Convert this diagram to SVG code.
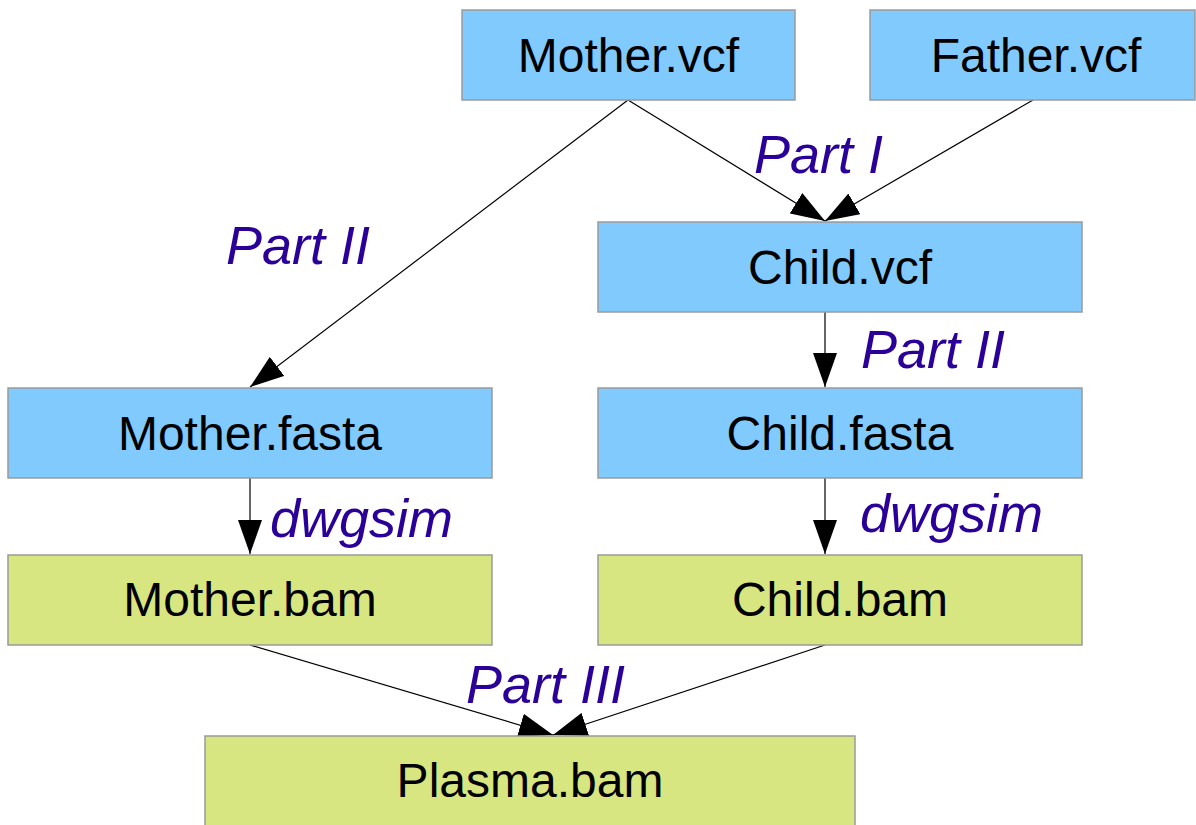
<svg xmlns="http://www.w3.org/2000/svg" width="1196" height="825" viewBox="0 0 1196 825">
<style>
.blue{fill:#80cafe;stroke:#9a9a9a;stroke-width:1.5}
.green{fill:#d7e680;stroke:#9a9a9a;stroke-width:1.5}
.nt{font-family:"Liberation Sans",Arial,sans-serif;font-size:48px;fill:#000;text-anchor:middle}
.lb{font-family:"Liberation Sans",Arial,sans-serif;font-size:54px;font-style:italic;fill:#2a0099}
.cn{stroke:#000;stroke-width:1.2;fill:none;marker-end:url(#ah)}
</style>
<defs>
<marker id="ah" markerUnits="userSpaceOnUse" markerWidth="34" markerHeight="24" refX="34" refY="12" orient="auto" viewBox="0 0 34 24">
<path d="M0,0 L34,12 L0,24 Z" fill="#000"/>
</marker>
</defs>
<rect width="1196" height="825" fill="#fff"/>
<g id="connectors">
<line class="cn" x1="628" y1="100" x2="825" y2="221"/>
<line class="cn" x1="1033" y1="100" x2="825" y2="221"/>
<line class="cn" x1="628" y1="100" x2="250" y2="387"/>
<line class="cn" x1="825" y1="312" x2="825" y2="387"/>
<line class="cn" x1="250" y1="478" x2="250" y2="554"/>
<line class="cn" x1="825" y1="478" x2="825" y2="554"/>
<line class="cn" x1="250" y1="645" x2="553" y2="735"/>
<line class="cn" x1="825" y1="645" x2="553" y2="735"/>
</g>
<g id="labels">
<text class="lb" x="754" y="173">Part I</text>
<text class="lb" x="226" y="264">Part II</text>
<text class="lb" x="861" y="368">Part II</text>
<text class="lb" x="270" y="537">dwgsim</text>
<text class="lb" x="860" y="532">dwgsim</text>
<text class="lb" x="466" y="703">Part III</text>
</g>
<g id="mother_vcf"><rect class="blue" x="462" y="10" width="333" height="90"/><text class="nt" x="628.5" y="72">Mother.vcf</text></g>
<g id="father_vcf"><rect class="blue" x="870" y="10" width="325" height="90"/><text class="nt" x="1036" y="72">Father.vcf</text></g>
<g id="child_vcf"><rect class="blue" x="598" y="222" width="484" height="90"/><text class="nt" x="840" y="284">Child.vcf</text></g>
<g id="mother_fasta"><rect class="blue" x="8" y="388" width="484" height="90"/><text class="nt" x="250" y="450">Mother.fasta</text></g>
<g id="child_fasta"><rect class="blue" x="598" y="388" width="484" height="90"/><text class="nt" x="840" y="450">Child.fasta</text></g>
<g id="mother_bam"><rect class="green" x="8" y="555" width="484" height="90"/><text class="nt" x="250" y="616">Mother.bam</text></g>
<g id="child_bam"><rect class="green" x="598" y="555" width="484" height="90"/><text class="nt" x="840" y="616">Child.bam</text></g>
<g id="plasma_bam"><rect class="green" x="205" y="736" width="650" height="100"/><text class="nt" x="530" y="797">Plasma.bam</text></g>
</svg>
